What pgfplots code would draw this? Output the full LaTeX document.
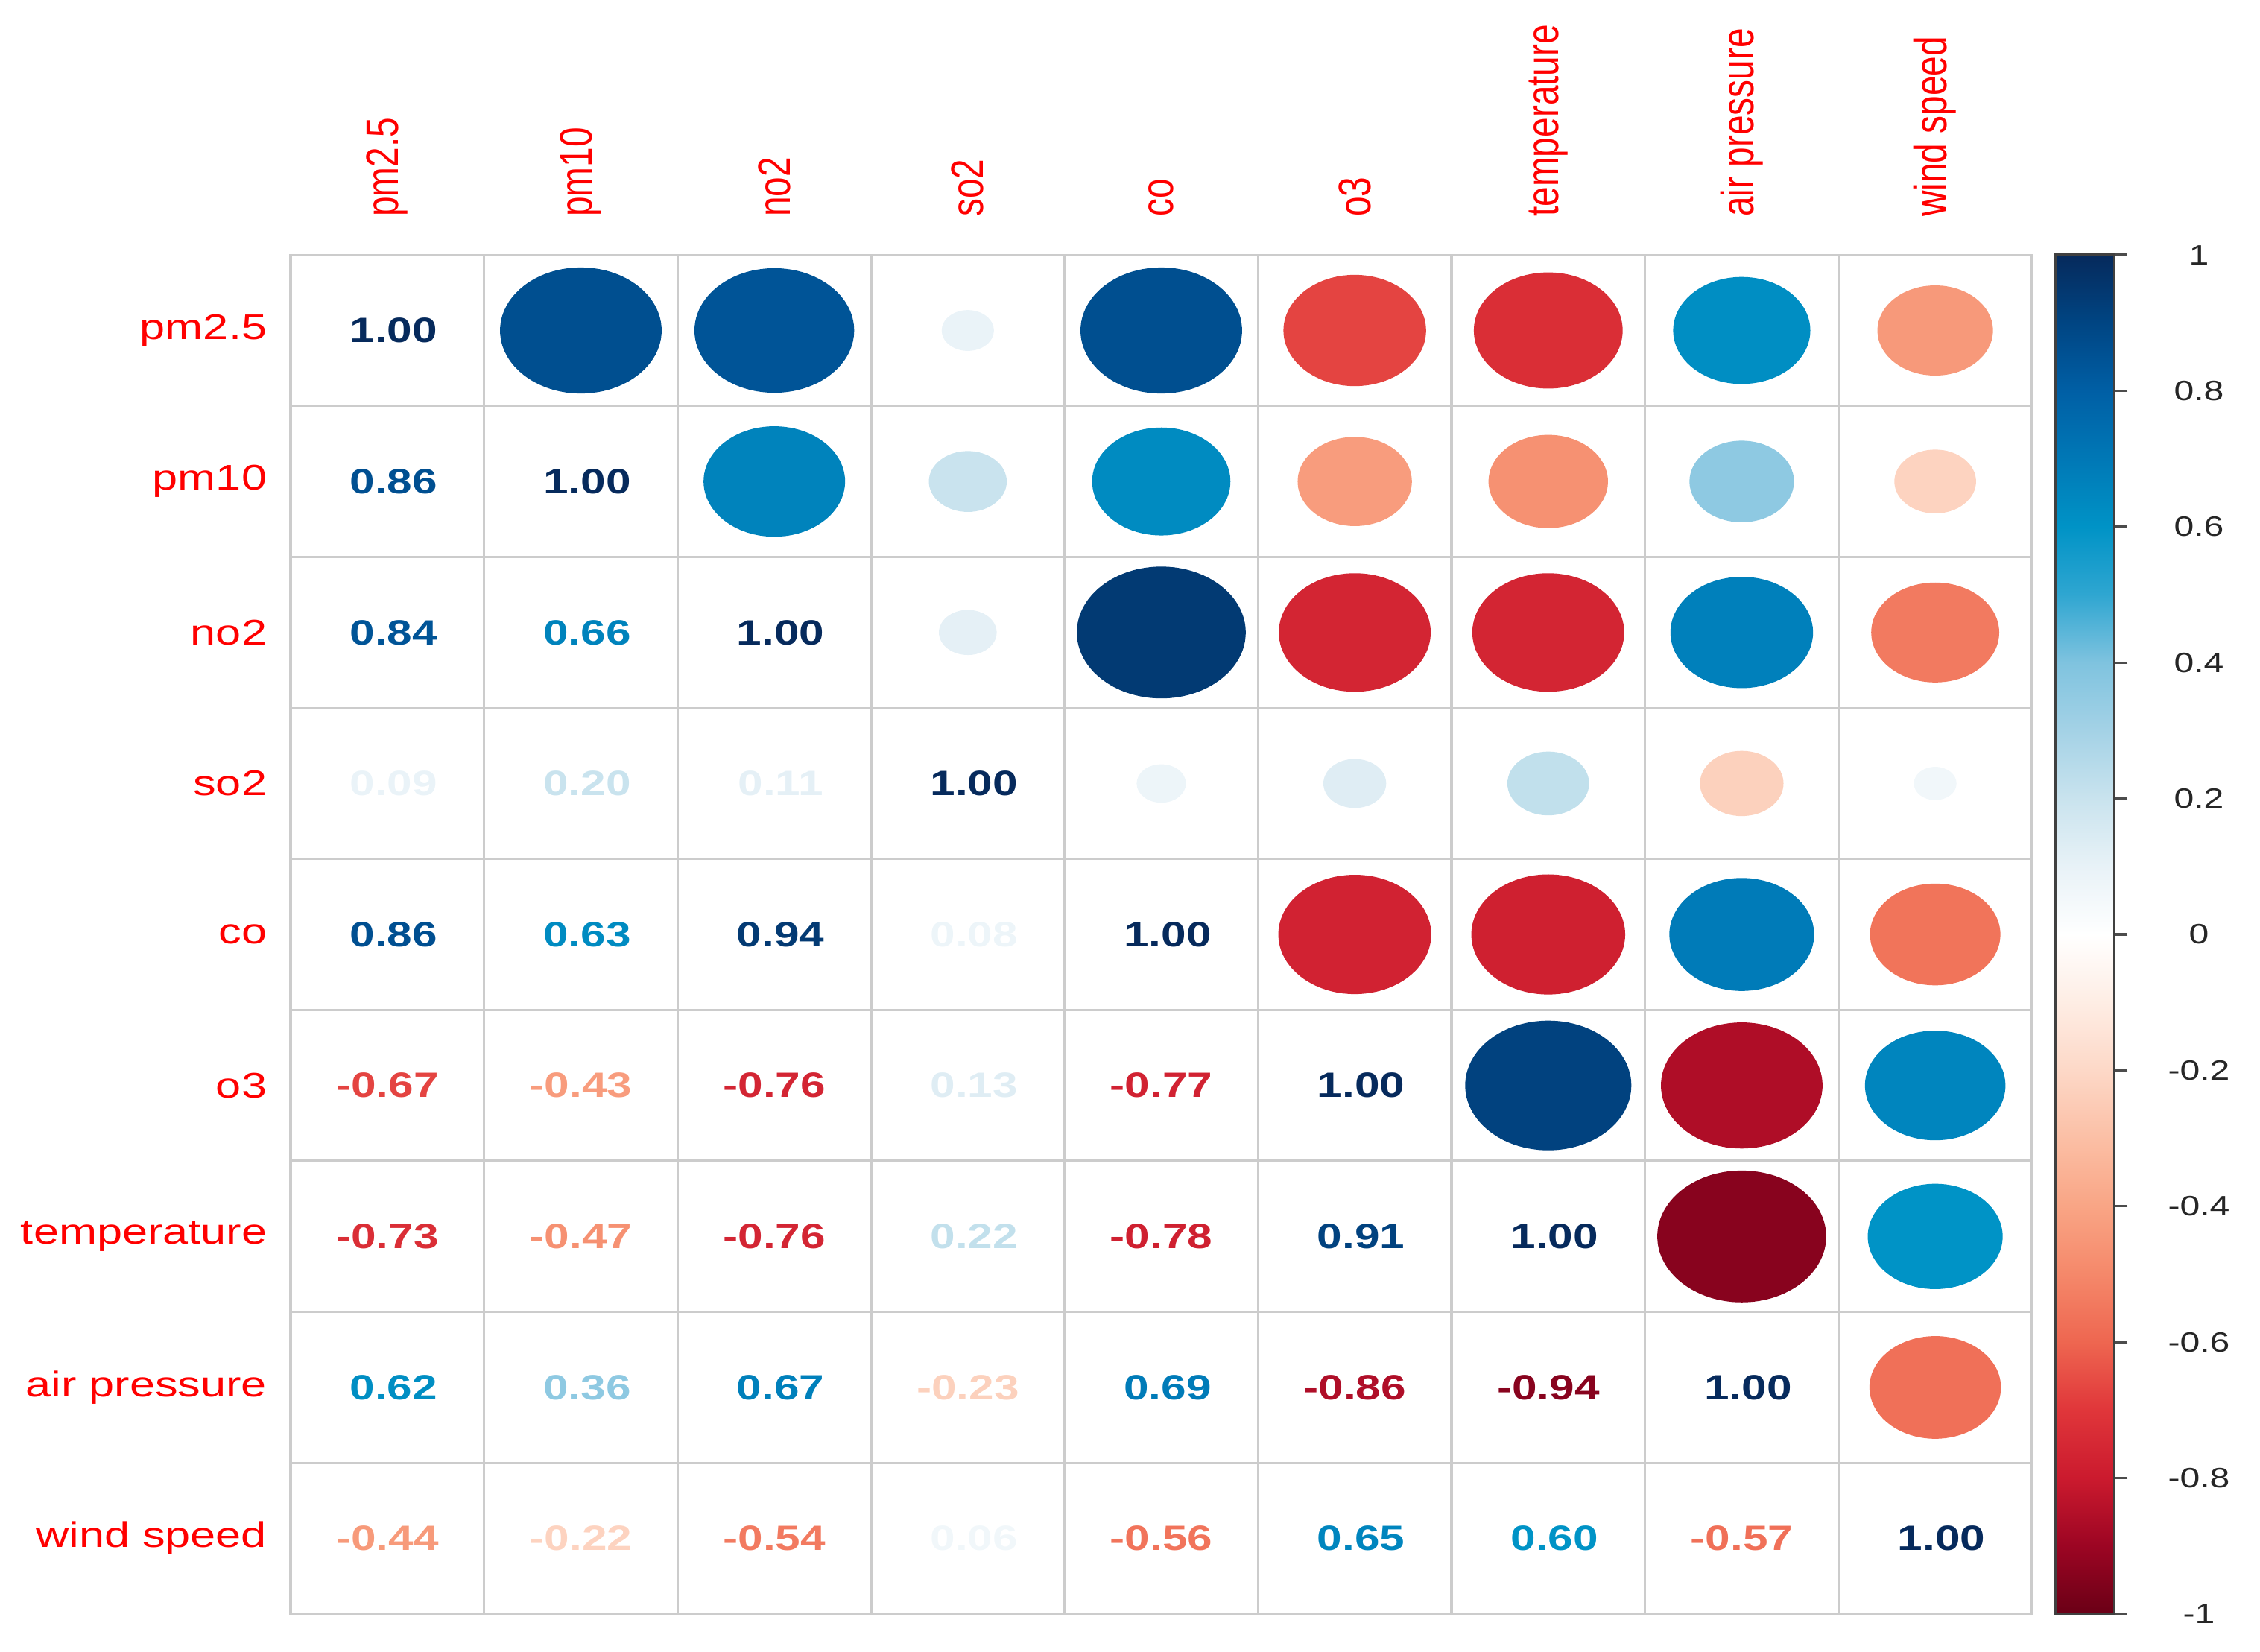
\documentclass[border=0pt]{standalone}
\usepackage{fontspec}
\setmainfont{Liberation Sans}[FakeStretch=1.28]
\newfontfamily\plainsans{Liberation Sans}
\usepackage{graphicx}
\usepackage{pgfplots}
\usepackage{pgfplotstable}
\pgfplotsset{compat=1.18}

% RdBu-like ramp, -1 ... 1 in steps of 0.1
\pgfplotsset{colormap={corr}{
  rgb255=(106,0,22) rgb255=(156,5,35) rgb255=(203,26,46) rgb255=(224,54,58)
  rgb255=(238,102,80) rgb255=(245,136,106) rgb255=(249,165,133) rgb255=(251,191,165)
  rgb255=(253,216,199) rgb255=(254,237,228) rgb255=(255,255,255)
  rgb255=(232,242,247) rgb255=(201,227,238) rgb255=(164,210,230) rgb255=(127,195,223)
  rgb255=(47,166,209) rgb255=(0,147,198) rgb255=(0,120,182) rgb255=(0,95,165)
  rgb255=(0,69,131) rgb255=(6,42,92)}}

\newcommand\lblfont{\fontsize{7}{8}\selectfont}
\newcommand\numfont{\bfseries\fontsize{6.9}{8}\selectfont}
\newcommand\cbfont{\fontsize{5.5}{6.5}\selectfont}
\newcommand\cl[1]{\scalebox{1}[1.28]{\plainsans\fontsize{7}{8}\selectfont #1}}

% lower triangle: printed coefficients
\pgfplotstableread{
x y r
1 1 1.00
1 2 0.86
2 2 1.00
1 3 0.84
2 3 0.66
3 3 1.00
1 4 0.09
2 4 0.20
3 4 0.11
4 4 1.00
1 5 0.86
2 5 0.63
3 5 0.94
4 5 0.08
5 5 1.00
1 6 -0.67
2 6 -0.43
3 6 -0.76
4 6 0.13
5 6 -0.77
6 6 1.00
1 7 -0.73
2 7 -0.47
3 7 -0.76
4 7 0.22
5 7 -0.78
6 7 0.91
7 7 1.00
1 8 0.62
2 8 0.36
3 8 0.67
4 8 -0.23
5 8 0.69
6 8 -0.86
7 8 -0.94
8 8 1.00
1 9 -0.44
2 9 -0.22
3 9 -0.54
4 9 0.06
5 9 -0.56
6 9 0.65
7 9 0.60
8 9 -0.57
9 9 1.00
}\lowertri

% upper triangle: circles
\pgfplotstableread{
x y r
2 1 0.86
3 1 0.84
4 1 0.09
5 1 0.86
6 1 -0.67
7 1 -0.73
8 1 0.62
9 1 -0.44
3 2 0.66
4 2 0.20
5 2 0.63
6 2 -0.43
7 2 -0.47
8 2 0.36
9 2 -0.22
4 3 0.11
5 3 0.94
6 3 -0.76
7 3 -0.76
8 3 0.67
9 3 -0.54
5 4 0.08
6 4 0.13
7 4 0.22
8 4 -0.23
9 4 0.06
6 5 -0.77
7 5 -0.78
8 5 0.69
9 5 -0.56
7 6 0.91
8 6 -0.86
9 6 0.65
8 7 -0.94
9 7 0.60
9 8 -0.57
}\uppertri

\begin{document}
\begin{tikzpicture}
\path[use as bounding box] (0,0) rectangle (156mm,114mm);
\begin{axis}[
    at={(20.06mm,2.6mm)}, anchor=south west,
    scale only axis, width=120.2mm, height=93.8mm,
    xmin=0.5, xmax=9.5, ymin=0.5, ymax=9.5,
    y dir=reverse,
    xtick={1,...,9}, ytick={1,...,9},
    xticklabels={\cl{pm2.5},\cl{pm10},\cl{no2},\cl{so2},\cl{co},\cl{o3},\cl{temperature},\cl{air pressure},\cl{wind speed}},
    yticklabels={pm2.5,pm10,no2,so2,co,o3,temperature,air pressure,wind speed},
    xticklabel pos=right,
    xticklabel style={rotate=90, anchor=west, text=red},
    yticklabel style={font=\lblfont, text=red},
    xticklabel shift=1.4mm, yticklabel shift=0.4mm,
    major tick length=0pt, minor tick length=0pt,
    minor xtick={1.5,2.5,...,8.5}, minor ytick={1.5,2.5,...,8.5},
    grid=minor,
    minor grid style={draw=black!20, line width=0.45pt},
    axis line style={draw=black!20, line width=0.45pt},
    colormap name=corr,
    point meta min=-1, point meta max=1,
    colorbar,
    colorbar style={
        at={(parent axis.north east)}, anchor=north west, xshift=-1.4mm,
        scale only axis, width=4.1mm, height=93.8mm,
        y dir=normal, grid=none,
        ytick={-1,-0.8,-0.6,-0.4,-0.2,0,0.2,0.4,0.6,0.8,1},
        yticklabels={-1,-0.8,-0.6,-0.4,-0.2,0,0.2,0.4,0.6,0.8,1},
        ytick pos=right, yticklabel pos=right, yticklabel shift=0pt,
        yticklabel style={font=\cbfont, text=black!85, anchor=west,
            text width=6mm, align=center, inner sep=0pt, xshift=1.85mm},
        tick align=outside, major tick length=0.9mm,
        ytick style={draw=black!70, line width=0.5pt},
        axis line style={draw=black!75, line width=0.5pt},
    },
]
% coefficients, coloured by value; positive ones padded by a space as R's format() does
\addplot[scatter, only marks, mark=*, mark size=0pt,
    point meta=\thisrow{r},
    scatter/@pre marker code/.code={%
        \expandafter\pgfplotscolormapdefinemappedcolor\expandafter{\pgfplotspointmetatransformed}%
        \pgfnode{rectangle}{center}{\numfont\color{mapped color}%
            \ifdim\pgfplotspointmetatransformed pt<500pt\else\kern\fontdimen2\font\fi
            \pgfmathprintnumber[fixed,fixed zerofill,precision=2,assume math mode=true]{\pgfplotspointmeta}}{}{\pgfusepath{discard}}%
        \pgfscope\pgfsetstrokeopacity{0}\pgfsetfillopacity{0}%
    },
    scatter/@post marker code/.code={\endpgfscope},
] table[x=x, y=y] {\lowertri};
% circles, diameter 0.9*sqrt(|r|) of the cell; r recovered from the mapped meta (0..1000)
\addplot[scatter, only marks, mark=*, mark size=0pt,
    point meta=\thisrow{r},
    scatter/@pre marker code/.code={%
        \expandafter\pgfplotscolormapdefinemappedcolor\expandafter{\pgfplotspointmetatransformed}%
        \pgfmathsetmacro\ry{13.35*sqrt(abs(\pgfplotspointmetatransformed/500-1))}%
        \pgfmathsetmacro\rx{1.2815*\ry}%
        \pgfscope
        \pgfsetfillcolor{mapped color}%
        \pgfpathellipse{\pgfpointorigin}{\pgfpoint{\rx pt}{0pt}}{\pgfpoint{0pt}{\ry pt}}%
        \pgfusepath{fill}%
        \endpgfscope
        \pgfscope\pgfsetstrokeopacity{0}\pgfsetfillopacity{0}%
    },
    scatter/@post marker code/.code={\endpgfscope},
] table[x=x, y=y] {\uppertri};
\end{axis}
\end{tikzpicture}
\end{document}
